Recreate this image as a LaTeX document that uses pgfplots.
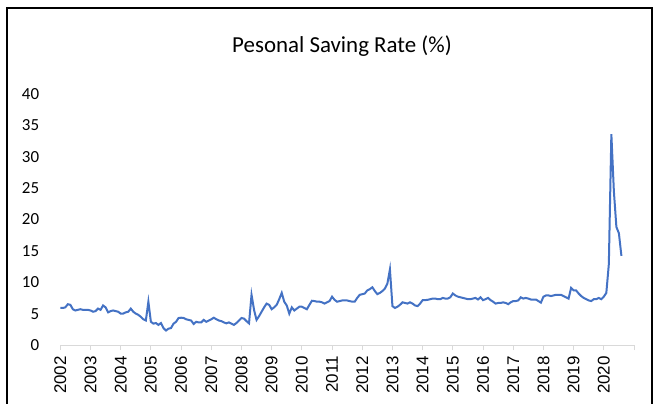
\documentclass[border=0pt]{standalone}
\usepackage{fontspec}
\setmainfont{Carlito}
\newfontfamily\xfont{Liberation Sans}
\usepackage{pgfplots}
\usepackage{pgfplotstable}
\pgfplotsset{compat=1.18}
\definecolor{lineblue}{HTML}{4472C4}
\definecolor{axgray}{HTML}{D9D9D9}

% monthly saving rate, Jan 2002 - Aug 2020 (one line per year)
\pgfplotstableread[row sep=\\]{
rate\\
5.9\\ 5.9\\ 6.0\\ 6.5\\ 6.4\\ 5.7\\ 5.5\\ 5.6\\ 5.7\\ 5.6\\ 5.6\\ 5.6\\
5.5\\ 5.3\\ 5.4\\ 5.8\\ 5.6\\ 6.3\\ 6.0\\ 5.2\\ 5.4\\ 5.5\\ 5.4\\ 5.3\\
5.0\\ 5.0\\ 5.2\\ 5.3\\ 5.8\\ 5.3\\ 5.0\\ 4.8\\ 4.5\\ 4.1\\ 3.9\\ 6.9\\
3.7\\ 3.4\\ 3.5\\ 3.2\\ 3.5\\ 2.7\\ 2.3\\ 2.6\\ 2.7\\ 3.4\\ 3.7\\ 4.3\\
4.35\\ 4.3\\ 4.1\\ 4.0\\ 3.9\\ 3.35\\ 3.7\\ 3.6\\ 3.6\\ 4.0\\ 3.7\\ 3.9\\
4.1\\ 4.35\\ 4.1\\ 3.9\\ 3.8\\ 3.6\\ 3.45\\ 3.6\\ 3.4\\ 3.2\\ 3.5\\ 3.9\\
4.3\\ 4.2\\ 3.8\\ 3.45\\ 8.0\\ 5.6\\ 4.0\\ 4.6\\ 5.3\\ 6.0\\ 6.6\\ 6.4\\
5.7\\ 6.0\\ 6.4\\ 7.3\\ 8.3\\ 6.9\\ 6.3\\ 5.0\\ 6.0\\ 5.5\\ 5.8\\ 6.1\\
6.1\\ 5.9\\ 5.7\\ 6.4\\ 7.05\\ 7.0\\ 6.9\\ 6.9\\ 6.8\\ 6.6\\ 6.8\\ 7.0\\
7.7\\ 7.2\\ 6.9\\ 7.0\\ 7.1\\ 7.1\\ 7.1\\ 7.0\\ 6.9\\ 6.9\\ 7.5\\ 8.0\\
8.1\\ 8.2\\ 8.7\\ 8.9\\ 9.2\\ 8.6\\ 8.1\\ 8.3\\ 8.6\\ 9.0\\ 9.8\\ 12.05\\
6.2\\ 5.9\\ 6.1\\ 6.4\\ 6.8\\ 6.7\\ 6.6\\ 6.8\\ 6.6\\ 6.3\\ 6.2\\ 6.6\\
7.15\\ 7.15\\ 7.2\\ 7.3\\ 7.4\\ 7.4\\ 7.3\\ 7.3\\ 7.5\\ 7.4\\ 7.4\\ 7.6\\
8.2\\ 7.9\\ 7.7\\ 7.6\\ 7.5\\ 7.4\\ 7.3\\ 7.3\\ 7.4\\ 7.5\\ 7.25\\ 7.6\\
7.15\\ 7.3\\ 7.5\\ 7.15\\ 6.9\\ 6.6\\ 6.7\\ 6.7\\ 6.8\\ 6.7\\ 6.5\\ 6.8\\
7.0\\ 7.0\\ 7.1\\ 7.6\\ 7.4\\ 7.5\\ 7.4\\ 7.25\\ 7.25\\ 7.25\\ 7.0\\ 6.75\\
7.7\\ 7.9\\ 7.9\\ 7.8\\ 7.9\\ 8.0\\ 8.0\\ 8.0\\ 7.8\\ 7.6\\ 7.4\\ 9.1\\
8.7\\ 8.7\\ 8.2\\ 7.8\\ 7.5\\ 7.3\\ 7.1\\ 7.0\\ 7.3\\ 7.3\\ 7.5\\ 7.3\\
7.7\\ 8.3\\ 12.9\\ 33.6\\ 24.5\\ 18.8\\ 17.8\\ 14.2\\
}\saving

\begin{document}
\begin{tikzpicture}
\useasboundingbox (0,0) rectangle (658bp,404bp);
% chart frame (bottom edge is cut off in the reference)
\draw[black, line width=1.3bp] (7bp,-20bp) -- (7bp,396bp) -- (652bp,396bp) -- (652bp,-20bp);
\node[font=\fontsize{23}{27}\selectfont] at (342bp,358bp) {Pesonal Saving Rate (\%)};
\begin{axis}[
  at={(60.3bp,59bp)}, anchor=south west,
  scale only axis, width=573.7bp, height=251bp,
  xmin=0, xmax=228, ymin=0, ymax=40,
  clip=false,
  axis x line*=bottom, axis y line*=left,
  y axis line style={draw=none}, ytick style={draw=none},
  x axis line style={axgray, line width=1bp},
  xtick style={axgray, line width=1bp},
  tick align=outside, major tick length=5bp,
  xtick={0,12,...,228},
  xticklabels={2002,2003,2004,2005,2006,2007,2008,2009,2010,2011,2012,2013,2014,2015,2016,2017,2018,2019,2020,},
  % rotated node: its own x axis points up, so xshift moves it down
  xticklabel style={rotate=90, anchor=east, inner sep=0pt, font=\xfont\fontsize{17}{20}\selectfont, xshift=-6bp},
  ytick={0,5,...,40},
  yticklabel style={anchor=east, inner sep=0pt, xshift=-16bp, font=\fontsize{17}{20}\selectfont},
  /pgf/number format/assume math mode=true,
]
\addplot[lineblue, line width=2bp] table[x expr=\coordindex, y=rate] {\saving};
\end{axis}
\end{tikzpicture}
\end{document}
